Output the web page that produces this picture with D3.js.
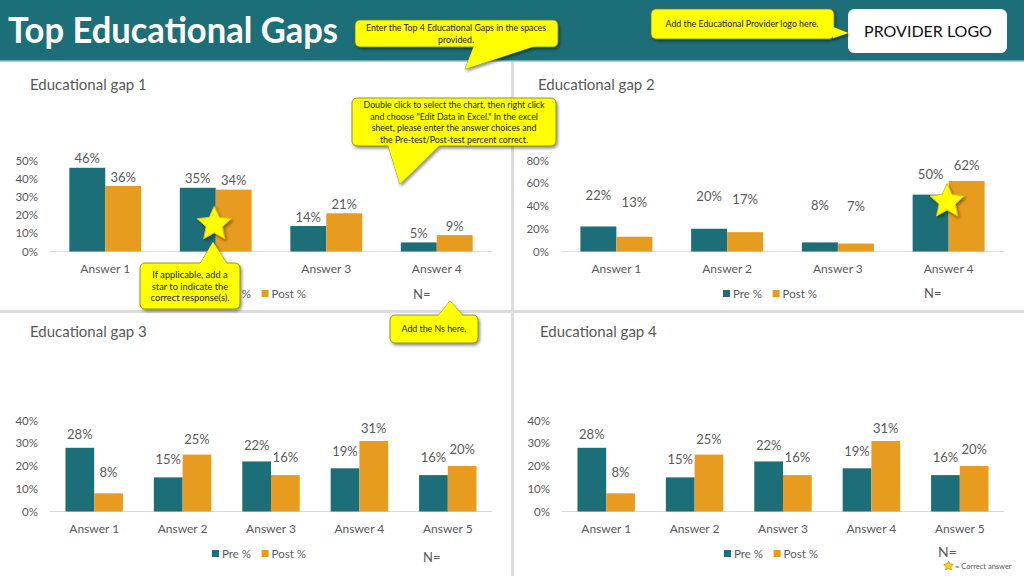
<!DOCTYPE html>
<html><head><meta charset="utf-8">
<script src="https://cdn.jsdelivr.net/npm/d3@7"></script>
<style>html,body{margin:0;padding:0;background:#fff;} svg{display:block;font-family:Lato,"Open Sans",sans-serif;}</style>
</head><body><svg id="c" width="1024" height="576"></svg>
<script>
// ---------- DATA ----------
const pageTitle = "Top Educational Gaps";
const gapTitles = ["Educational gap 1", "Educational gap 2", "Educational gap 3", "Educational gap 4"];
const seriesNames = ["Pre %", "Post %"];
const gap1Categories = ["Answer 1", "Answer 2", "Answer 3", "Answer 4"];
const gap2Categories = ["Answer 1", "Answer 2", "Answer 3", "Answer 4"];
const gap3Categories = ["Answer 1", "Answer 2", "Answer 3", "Answer 4", "Answer 5"];
const gap4Categories = ["Answer 1", "Answer 2", "Answer 3", "Answer 4", "Answer 5"];
const gap1Pre  = [0.46, 0.35, 0.14, 0.05];
const gap1Post = [0.36, 0.34, 0.21, 0.09];
const gap2Pre  = [0.22, 0.20, 0.08, 0.50];
const gap2Post = [0.13, 0.17, 0.07, 0.62];
const gap3Pre  = [0.28, 0.15, 0.22, 0.19, 0.16];
const gap3Post = [0.08, 0.25, 0.16, 0.31, 0.20];
const gap4Pre  = [0.28, 0.15, 0.22, 0.19, 0.16];
const gap4Post = [0.08, 0.25, 0.16, 0.31, 0.20];
const gap1Ticks = [0, 0.1, 0.2, 0.3, 0.4, 0.5];
const gap2Ticks = [0, 0.2, 0.4, 0.6, 0.8];
const gap3Ticks = [0, 0.1, 0.2, 0.3, 0.4];
const gap4Ticks = [0, 0.1, 0.2, 0.3, 0.4];
const correctAnswers = ["Answer 2", "Answer 4", null, null];
const nText = "N=";
const providerText = "PROVIDER LOGO";
const correctLegendText = "= Correct answer";
const calloutTexts = [
  ["Enter the Top 4 Educational Gaps in the spaces", "provided."],
  ["Add the Educational Provider logo here."],
  ["Double click to select the chart, then right click", "and choose \"Edit Data in Excel.\" In the excel", "sheet, please enter the answer choices and", "the Pre-test/Post-test percent correct."],
  ["If applicable, add a", "star to indicate the", "correct response(s)."],
  ["Add the Ns here."]
];

// ---------- LAYOUT / STYLE ----------
const TEAL = "#1c6f79", ORANGE = "#e89c1f", GREY = "#595959";
const panels = [
  {cats: gap1Categories, pre: gap1Pre, post: gap1Post, ticks: gap1Ticks,
   xr: [50, 492], yr: [251.5, 160.5], lr: [242.5, 151.5], tickX: 41, catY: 268.3,
   title: [30, 85], legend: [212, 293.5], n: [413, 294, 13], star: 0.15},
  {cats: gap2Categories, pre: gap2Pre, post: gap2Post, ticks: gap2Ticks,
   xr: [561, 1004], yr: [251.5, 160.5], lr: [212, 151.4], tickX: 552, catY: 268.3,
   title: [538, 85], legend: [723, 293.5], n: [924, 293, 13], star: 0.44},
  {cats: gap3Categories, pre: gap3Pre, post: gap3Post, ticks: gap3Ticks,
   xr: [50, 492], yr: [511.5, 420.5], lr: [487.6, 411.2], tickX: 41, catY: 528.3,
   title: [30, 332], legend: [212, 553.5], n: [423, 557, 13]},
  {cats: gap4Categories, pre: gap4Pre, post: gap4Post, ticks: gap4Ticks,
   xr: [562, 1004], yr: [511.5, 420.5], lr: [487.6, 411.2], tickX: 553, catY: 528.3,
   title: [540, 332], legend: [724, 553.5], n: [938, 552, 14]}
];

const svg = d3.select("#c");
const defs = svg.append("defs");
const sh = defs.append("filter").attr("id", "shadow").attr("x", "-20%").attr("y", "-20%").attr("width", "150%").attr("height", "150%");
sh.append("feDropShadow").attr("dx", 1.5).attr("dy", 2).attr("stdDeviation", 1.5).attr("flood-color", "#000").attr("flood-opacity", 0.45);

svg.append("rect").attr("width", 1024).attr("height", 576).attr("fill", "#fff");

// header
svg.append("rect").attr("x", 0).attr("y", 0).attr("width", 1024).attr("height", 61).attr("fill", TEAL);
svg.append("rect").attr("x", 0).attr("y", 60).attr("width", 1024).attr("height", 1.5).attr("fill", "#6fa6ad");
svg.append("text").attr("x", 8).attr("y", 43).attr("fill", "#fff").attr("font-size", 37).attr("font-weight", 700)
  .attr("textLength", 330).attr("lengthAdjust", "spacingAndGlyphs").text(pageTitle);

// dividers
svg.append("line").attr("x1", 512.5).attr("x2", 512.5).attr("y1", 62).attr("y2", 576).attr("stroke", "#dcdcdc").attr("stroke-width", 3);
svg.append("line").attr("x1", 0).attr("x2", 1024).attr("y1", 311.5).attr("y2", 311.5).attr("stroke", "#dcdcdc").attr("stroke-width", 3);

function starPath(cx, cy, R, r) {
  const pts = [];
  for (let i = 0; i < 10; i++) {
    const a = -Math.PI / 2 + i * Math.PI / 5;
    const rr = i % 2 === 0 ? R : r;
    pts.push([cx + rr * Math.cos(a), cy + rr * Math.sin(a)]);
  }
  return d3.line()(pts) + "Z";
}

panels.forEach((p, pi) => {
  const g = svg.append("g");
  const rows = p.cats.map((c, i) => ({cat: c, vals: [p.pre[i], p.post[i]]}));
  const x0 = d3.scaleBand().domain(p.cats).range(p.xr).paddingInner(0.35).paddingOuter(0.175);
  const x1 = d3.scaleBand().domain(seriesNames).range([0, x0.bandwidth()]);
  const ymax = p.ticks[p.ticks.length - 1];
  const y = d3.scaleLinear().domain([0, ymax]).range(p.yr);
  const ly = d3.scaleLinear().domain([0, ymax]).range(p.lr);
  const color = d3.scaleOrdinal().domain(seriesNames).range([TEAL, ORANGE]);

  // title
  g.append("text").attr("x", p.title[0]).attr("y", p.title[1]).attr("dy", "0.35em")
    .attr("font-size", 15).attr("fill", GREY).text(gapTitles[pi]);

  // y axis
  const ya = g.append("g").attr("transform", `translate(${p.tickX},0)`)
    .call(d3.axisLeft(y).tickValues(p.ticks).tickFormat(d3.format(".0%")).tickSize(0).tickPadding(3));
  ya.select(".domain").remove();
  ya.selectAll("text").attr("font-size", 11.5).attr("fill", GREY).attr("font-family", "Lato,sans-serif");

  // baseline
  g.append("line").attr("x1", p.xr[0]).attr("x2", p.xr[1]).attr("y1", y(0)).attr("y2", y(0))
    .attr("stroke", "#d9d9d9").attr("stroke-width", 1);

  // x axis labels
  const xa = g.append("g").attr("transform", `translate(0,${y(0)})`).call(d3.axisBottom(x0).tickSize(0));
  xa.select(".domain").remove();
  xa.selectAll("text").attr("y", p.catY - y(0)).attr("dy", "0.35em").attr("font-size", 12)
    .attr("fill", GREY).attr("font-family", "Lato,sans-serif");

  // bars
  const grp = g.selectAll("g.cat").data(rows).join("g").attr("class", "cat")
    .attr("transform", d => `translate(${x0(d.cat)},0)`);
  grp.selectAll("rect").data(d => d.vals.map((v, i) => ({s: seriesNames[i], v})))
    .join("rect").attr("x", d => x1(d.s)).attr("width", x1.bandwidth())
    .attr("y", d => y(d.v)).attr("height", d => y(0) - y(d.v)).attr("fill", d => color(d.s));
  grp.selectAll("text.lbl").data(d => d.vals.map((v, i) => ({s: seriesNames[i], v})))
    .join("text").attr("class", "lbl").attr("x", d => x1(d.s) + x1.bandwidth() / 2)
    .attr("y", d => ly(d.v)).attr("dy", "0.35em").attr("text-anchor", "middle")
    .attr("font-size", 13).attr("fill", GREY).text(d => d3.format(".0%")(d.v));

  // legend
  const lg = g.append("g").attr("transform", `translate(${p.legend[0]},${p.legend[1]})`);
  const li = lg.selectAll("g").data(seriesNames).join("g").attr("transform", (d, i) => `translate(${i * 49.6},0)`);
  li.append("rect").attr("x", 0).attr("y", -3.5).attr("width", 7).attr("height", 7).attr("fill", d => color(d));
  li.append("text").attr("x", 10).attr("dy", "0.35em").attr("font-size", 11.5).attr("fill", GREY).text(d => d);

  // N=
  g.append("text").attr("x", p.n[0]).attr("y", p.n[1]).attr("dy", "0.35em").attr("font-size", p.n[2])
    .attr("fill", GREY).text(nText);

  // star for correct answer
  if (correctAnswers[pi]) {
    const cx = x0(correctAnswers[pi]) + x0.bandwidth() / 2 - 1.5;
    g.append("path").attr("d", starPath(cx, y(p.star), 18, 8.5)).attr("fill", "#ffff00")
      .attr("stroke", "#e0c000").attr("stroke-width", 1).attr("filter", "url(#shadow)");
  }
});

// bottom-right star legend
svg.append("path").attr("d", starPath(948.5, 566, 5, 2.4)).attr("fill", "#ffd700").attr("stroke", "#d08a00").attr("stroke-width", 0.7);
svg.append("text").attr("x", 955).attr("y", 566).attr("dy", "0.35em").attr("font-size", 7.5).attr("fill", GREY).text(correctLegendText);

// provider logo box
svg.append("rect").attr("x", 848).attr("y", 9).attr("width", 159).attr("height", 44).attr("rx", 6).attr("fill", "#fff");
svg.append("text").attr("x", 928).attr("y", 31).attr("dy", "0.35em").attr("text-anchor", "middle")
  .attr("font-size", 16).attr("fill", "#111").text(providerText);

// callouts
function callout(r, ptr, lines, cx, ys, fs) {
  const g = svg.append("g");
  const sg = g.append("g").attr("filter", "url(#shadow)");
  const tri = d3.line()(ptr) + "Z";
  sg.append("path").attr("d", tri).attr("fill", "#ffff00").attr("stroke", "#7a7a20").attr("stroke-width", 0.8);
  sg.append("rect").attr("x", r[0]).attr("y", r[1]).attr("width", r[2]).attr("height", r[3]).attr("rx", 5)
    .attr("fill", "#ffff00").attr("stroke", "#7a7a20").attr("stroke-width", 0.8);
  g.append("path").attr("d", tri).attr("fill", "#ffff00");
  lines.forEach((t, i) => {
    g.append("text").attr("x", cx).attr("y", ys[i]).attr("dy", "0.35em").attr("text-anchor", "middle")
      .attr("font-size", fs).attr("fill", "#1a1a1a").text(t);
  });
}
callout([355, 20, 203, 27], [[474, 46], [465, 69], [535, 46]], calloutTexts[0], 456, [28, 40], 8.8);
callout([651, 9, 183, 30], [[833, 27], [848, 33], [833, 38]], calloutTexts[1], 742, [24], 8.8);
callout([352, 98, 204, 48], [[388, 145], [400, 184], [440, 145]], calloutTexts[2], 454, [105, 116.5, 128, 139.5], 8.8);
callout([140, 263, 100, 46], [[200, 264], [213, 242], [227, 264]], calloutTexts[3], 190, [275, 286.5, 298], 9.3);
callout([390, 315, 88, 28], [[438, 316], [450, 301], [463, 316]], calloutTexts[4], 434, [329], 8.8);
</script></body></html>
